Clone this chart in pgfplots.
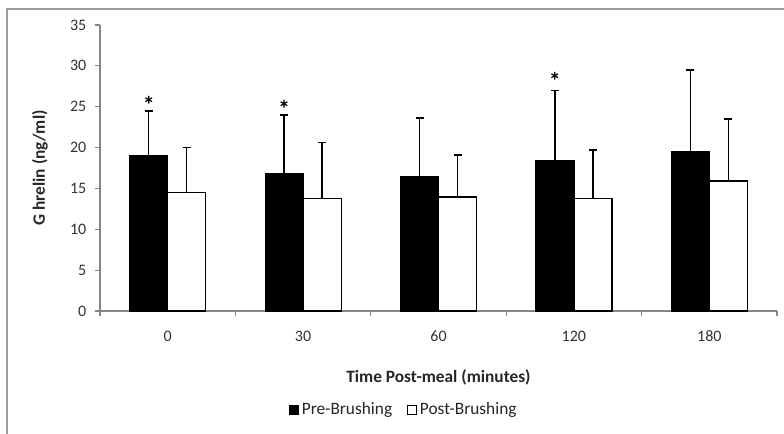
\documentclass[border=0pt]{standalone}
\usepackage{pgfplots}
\pgfplotsset{compat=1.18}
\usepackage{fontspec}
\setmainfont{Carlito}
\definecolor{axgray}{HTML}{868686}
\begin{document}
\begin{tikzpicture}
\useasboundingbox (0,0) rectangle (588pt,325.5pt);
\draw[color=axgray!80, line width=0.8pt] (5.25pt,0) -- (5.25pt,318.75pt) -- (590pt,318.75pt);
\begin{axis}[
  at={(75pt,92.25pt)}, anchor=south west,
  scale only axis, width=507.75pt, height=214.5pt,
  xmin=-0.5, xmax=4.5, ymin=0, ymax=35,
  ybar, bar width=28.5pt,
  axis x line*=bottom, axis y line*=left,
  axis line style={axgray, line width=0.8pt},
  every tick/.style={axgray, line width=0.8pt},
  tick align=outside,
  xtick={0,1,2,3,4}, xticklabels={0,30,60,120,180},
  major x tick style={draw=none},
  minor xtick={-0.5,0.5,1.5,2.5,3.5,4.5},
  minor tick length=4pt,
  ytick={0,5,...,35}, major tick length=3.75pt,
  /pgf/number format/assume math mode=true,
  tick label style={font=\fontsize{12}{14}\selectfont, text=black!80},
  xticklabel style={anchor=center, yshift=-15pt},
  yticklabel style={anchor=east, xshift=-3pt},
  xlabel={Time Post-meal (minutes)},
  ylabel={G hrelin (ng/ml)},
  label style={font=\bfseries\fontsize{13}{15}\selectfont, text=black!85},
  xlabel style={at={(axis description cs:0.5,-0.231)}, anchor=center},
  ylabel style={at={(axis description cs:-0.0886,0.5)}, anchor=center, rotate=0},
  legend style={at={(axis description cs:0.449,-0.346)}, anchor=center, draw=none,
    font=\fontsize{13}{15}\selectfont, legend columns=2, text=black!85,
    /tikz/every even column/.append style={column sep=9pt}},
  legend image code/.code={\draw[#1, line width=0.6pt] (0pt,-3.6pt) rectangle (7.2pt,3.6pt);},
  error bars/y dir=plus, error bars/y explicit,
  error bars/error bar style={black, line width=1.1pt},
  error bars/error mark options={rotate=90, mark size=3pt, black, line width=1.1pt},
  clip=false,
]
\addplot+[bar shift=-14.25pt, fill=black, draw=black, line width=0.9pt] coordinates {
  (0,19.0) +- (0,5.5)
  (1,16.85) +- (0,7.15)
  (2,16.5) +- (0,7.1)
  (3,18.45) +- (0,8.55)
  (4,19.5) +- (0,10.0)
};
\addplot+[bar shift=14.25pt, fill=white, draw=black, line width=0.9pt] coordinates {
  (0,14.5) +- (0,5.5)
  (1,13.8) +- (0,6.8)
  (2,13.95) +- (0,5.15)
  (3,13.8) +- (0,5.9)
  (4,15.9) +- (0,7.6)
};
\legend{Pre-Brushing, Post-Brushing}
\node[anchor=north, inner sep=0pt, font=\bfseries\fontsize{18}{20}\selectfont] at (axis cs:-0.14,26.3) {*};
\node[anchor=north, inner sep=0pt, font=\bfseries\fontsize{18}{20}\selectfont] at (axis cs:0.86,25.8) {*};
\node[anchor=north, inner sep=0pt, font=\bfseries\fontsize{18}{20}\selectfont] at (axis cs:2.86,29.3) {*};
\end{axis}
\end{tikzpicture}
\end{document}
